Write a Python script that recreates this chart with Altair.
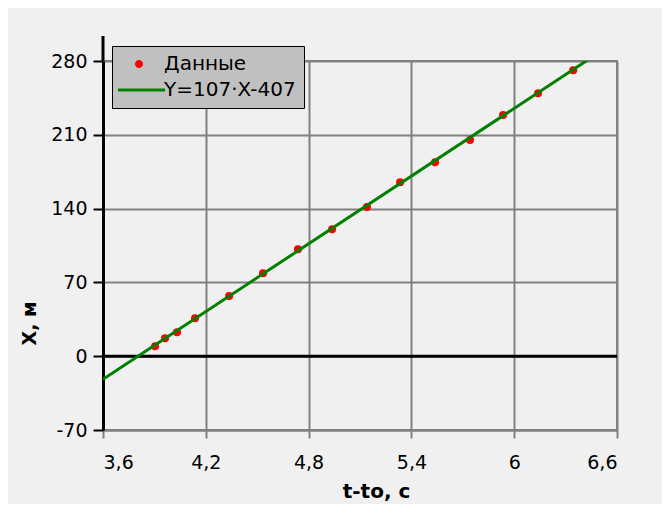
import altair as alt
import pandas as pd

# measured data points (t - to, seconds ; X, metres)
t_vals = [3.904, 3.962, 4.032, 4.137, 4.336, 4.534, 4.738, 4.937, 5.141,
          5.334, 5.538, 5.742, 5.935, 6.139, 6.344]
x_vals = [9.5, 17.1, 22.8, 36.1, 57.0, 78.7, 101.5, 120.5, 141.4,
          165.0, 184.0, 205.0, 228.7, 249.5, 271.3]

# fitted line endpoints (Y = 107·X - 407)
fit_t = [3.6, 6.45]
fit_x = [-21.8, 283.2]

series_names = ["Данные", "Y=107·X-407"]
series_colors = ["#ff0000", "#008000"]

x_ticks = [3.6, 4.2, 4.8, 5.4, 6.0, 6.6]
y_ticks = [-70, 0, 70, 140, 210, 280]

pts = pd.DataFrame({"t": t_vals, "x": x_vals})
fit = pd.DataFrame({"t": fit_t, "x": fit_x})
leg = pd.DataFrame({"series": series_names})

FONT = "DejaVu Sans"

xscale = alt.Scale(domain=[3.6, 6.6], nice=False, zero=False)
yscale = alt.Scale(domain=[-70, 280], nice=False, zero=False)

xaxis = alt.Axis(values=x_ticks, grid=True, gridColor="#808080", gridWidth=2,
                 domainColor="#808080", domainWidth=2, tickColor="#808080",
                 tickWidth=2, tickSize=8, labelPadding=30, labelBaseline="alphabetic",
                 labelExpr="replace(format(datum.value, '.1~f'), '.', ',')",
                 labelFont=FONT, labelFontSize=19, labelColor="black",
                 title="t-to, c", titleFont=FONT, titleFontSize=20,
                 titleFontWeight="bold", titleColor="black",
                 titleAlign="center", titleBaseline="alphabetic",
                 titleX=273, titleY=67)
yaxis = alt.Axis(values=y_ticks, grid=True, gridColor="#808080", gridWidth=2,
                 domainColor="black", domainWidth=3, tickColor="black",
                 tickWidth=2, tickSize=10, labelPadding=6,
                 labelExpr="'' + datum.value",
                 labelFont=FONT, labelFontSize=19, labelColor="black",
                 title="X, м", titleFont=FONT, titleFontSize=19,
                 titleFontWeight="bold", titleColor="black",
                 titleAngle=270, titleAlign="center", titleBaseline="alphabetic",
                 titleX=-68, titleY=262)

points = alt.Chart(pts).mark_circle(color="#ff0000", size=64, opacity=1).encode(
    x=alt.X("t:Q", scale=xscale, axis=xaxis),
    y=alt.Y("x:Q", scale=yscale, axis=yaxis),
)

line = alt.Chart(fit).mark_line(color="#008000", strokeWidth=3, clip=True).encode(
    x=alt.X("t:Q", scale=xscale),
    y=alt.Y("x:Q", scale=yscale),
)

zero = alt.Chart(pd.DataFrame({"z": [0]})).mark_rule(color="black", strokeWidth=3).encode(
    y=alt.Y("z:Q", scale=yscale),
)

axis_ext = alt.Chart(pd.DataFrame({"z": [0]})).mark_rule(color="black", strokeWidth=3).encode(
    x=alt.value(0), y=alt.value(-25), y2=alt.value(0),
)

circle_path = "M1.25,0A1,1 0 1,1 3.25,0A1,1 0 1,1 1.25,0Z"
line_path = "M-3,-0.375H8.75V0.375H-3Z"

legend_cfg = dict(title=None, orient="none", legendX=9, legendY=-15,
                  fillColor="#c0c0c0", strokeColor="black",
                  padding=8, symbolOpacity=1, symbolSize=64,
                  symbolStrokeWidth=0, labelOffset=24,
                  labelFont=FONT, labelFontSize=20,
                  labelColor="black", rowPadding=6)

legend_layer = alt.Chart(leg).mark_point(filled=True, opacity=0, size=64).encode(
    color=alt.Color("series:N", sort=series_names,
                    scale=alt.Scale(domain=series_names, range=series_colors),
                    legend=alt.Legend(**legend_cfg)),
    shape=alt.Shape("series:N", sort=series_names,
                    scale=alt.Scale(domain=series_names, range=[circle_path, line_path]),
                    legend=alt.Legend(**legend_cfg)),
)

chart = alt.layer(zero, points, line, axis_ext, legend_layer).properties(
    width=514, height=369,
    autosize=alt.AutoSizeParams(type="none"),
    padding={"left": 95, "top": 53, "right": 45, "bottom": 74},
    background="#f0f0f0",
).configure_view(
    fill="white", stroke="#808080", strokeWidth=2,
)

chart.save("out.html", embed_options={"renderer": "svg", "actions": False})
